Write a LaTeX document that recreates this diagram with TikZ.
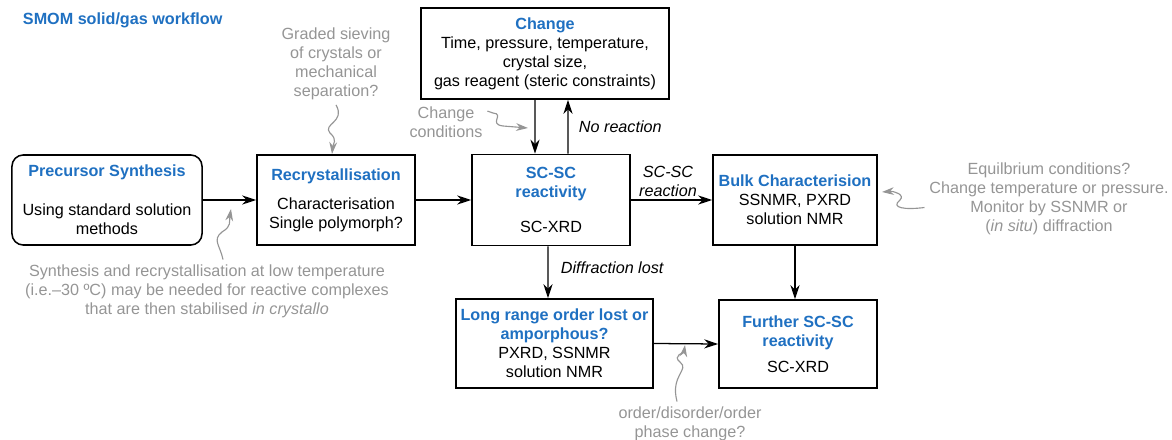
\documentclass[tikz,border=0pt]{standalone}
\usepackage{fontspec}
\setmainfont{Liberation Sans}
\usetikzlibrary{arrows.meta}

\tikzset{
    box/.style={draw, line width=1.1pt, align=center, inner sep=2pt},
    flow/.style={-{Stealth[length=10pt,width=6.5pt]}, line width=0.9pt},
    hint/.style={-{Stealth[length=8.5pt,width=5.5pt]}, line width=0.8pt, draw=hint_grey},
    note/.style={text=hint_grey, align=center},
    cond/.style={font=\fontsize{11.5}{13.5}\itshape\selectfont, align=center},
}

\begin{document}
\begin{tikzpicture}[x=0.025cm, y=-0.025cm, font=\fontsize{11.5}{13.5}\selectfont]
    \definecolor{hdr_blue}{HTML}{1f70c1}
    \definecolor{hint_grey}{HTML}{959595}
    \useasboundingbox (0,0) rectangle (1172,440);

    \node[anchor=west, text=hdr_blue, font=\fontsize{11.5}{13.5}\bfseries\selectfont] (title) at (18,20) {SMOM solid/gas workflow};

    % main boxes
    \node[box, rounded corners=8pt, minimum width=4.75cm, minimum height=2.25cm] (pre) at (107,200) {
        \textcolor{hdr_blue}{\bfseries Precursor Synthesis}\\[14pt]
        Using standard solution\\ methods
    };
    \node[box, minimum width=3.95cm, minimum height=2.25cm] (rec) at (336,200) {
        \textcolor{hdr_blue}{\bfseries Recrystallisation}\\[7pt]
        Characterisation\\ Single polymorph?
    };
    \node[box, minimum width=3.95cm, minimum height=2.275cm] (scsc) at (551,200) {
        \textcolor{hdr_blue}{\bfseries SC-SC}\\ \textcolor{hdr_blue}{\bfseries reactivity}\\[12pt]
        SC-XRD
    };
    \node[box, minimum width=6.2cm, minimum height=2.275cm] (change) at (545,53.5) {
        \textcolor{hdr_blue}{\bfseries Change}\\
        Time, pressure, temperature,\\ crystal size,\\ gas reagent (steric constraints)
    };
    \node[box, minimum width=4.1cm, minimum height=2.25cm] (bulk) at (795,200) {
        \textcolor{hdr_blue}{\bfseries Bulk Characterision}\\
        SSNMR, PXRD\\ solution NMR
    };
    \node[box, minimum width=4.925cm, minimum height=2.225cm] (lro) at (554.5,343.5) {
        \textcolor{hdr_blue}{\bfseries Long range order lost or}\\ \textcolor{hdr_blue}{\bfseries amporphous?}\\
        PXRD, SSNMR\\ solution NMR
    };
    \node[box, minimum width=3.95cm, minimum height=2.2cm] (further) at (798,344) {
        \textcolor{hdr_blue}{\bfseries Further SC-SC}\\ \textcolor{hdr_blue}{\bfseries reactivity}\\[5pt]
        SC-XRD
    };

    % connectors
    \draw[flow] (pre.east) -- (rec.west);
    \draw[flow] (rec.east) -- (scsc.west);
    \draw[flow] (scsc.east) -- (bulk.west);
    \draw[flow] ([xshift=-0.25cm]change.south) -- ([xshift=-0.4cm]scsc.north);
    \draw[flow] ([xshift=0.425cm]scsc.north) -- ([xshift=0.575cm]change.south);
    \draw[flow] ([xshift=-0.075cm]scsc.south) -- ([xshift=-0.1625cm]lro.north);
    \draw[flow] (bulk.south) -- (bulk.south |- further.north);
    \draw[flow] (lro.east) -- (further.west);

    \node[cond, anchor=west] (noreact) at (574,127) {No reaction};
    \node[cond] (react) at (668,181) {SC-SC\\ reaction};
    \node[cond, anchor=west] (lost) at (556,268) {Diffraction lost};

    % grey remarks
    \node[note] (sieve) at (336,64) {Graded sieving\\ of crystals or\\ mechanical\\ separation?};
    \node[note] (cond) at (446,122.5) {Change\\ conditions};
    \node[note] (lowT) at (207,291) {Synthesis and recrystallisation at low temperature\\
        (i.e.–30 ºC) may be needed for reactive complexes\\
        that are then stabilised \textit{in crystallo}};
    \node[note] (equil) at (1049,198.5) {Equilbrium conditions?\\ Change temperature or pressure.\\
        Monitor by SSNMR or\\ (\textit{in situ}) diffraction};
    \node[note] (phase) at (690,423.5) {order/disorder/order\\ phase change?};

    \coordinate (sieve_tip) at (332,154);
    \coordinate (cond_tip) at (528,128);
    \coordinate (lowT_tip) at (231,209);
    \coordinate (equil_tip) at (882,192);
    \coordinate (phase_tip) at (685,345);

    \draw[hint] (sieve.south) .. controls (346,122) and (322,124) .. (330,133)
        .. controls (338,140) and (333,144) .. (sieve_tip);
    \draw[hint] (cond.north east) ++(0,9) -- (493,113) .. controls (505,114) and (488,124) .. (503,126)
        -- (cond_tip);
    \draw[hint] (lowT.north) ++(16,0) .. controls (220,245) and (212,240) .. (222,232)
        .. controls (232,226) and (229,222) .. (lowT_tip);
    \draw[hint] (equil.west) ++(0,9) .. controls (905,210) and (890,208) .. (900,200)
        .. controls (905,195) and (895,191) .. (equil_tip);
    \draw[hint] (phase.north) ++(-13,0) .. controls (670,375) and (690,370) .. (680,362)
        .. controls (672,356) and (684,352) .. (phase_tip);
\end{tikzpicture}
\end{document}
